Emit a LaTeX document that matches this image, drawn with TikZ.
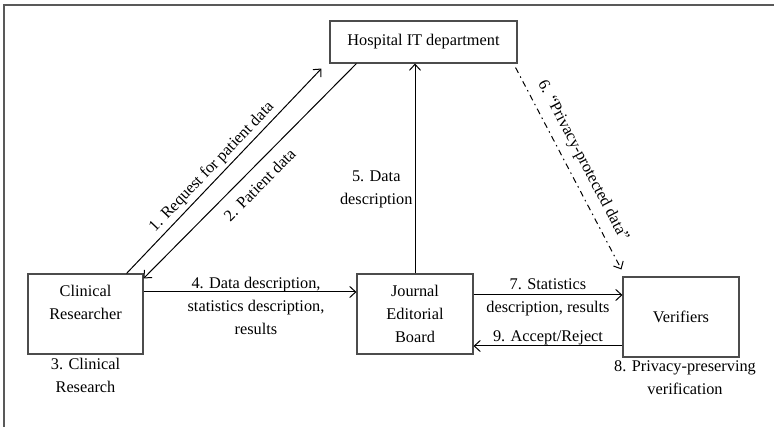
\documentclass[tikz,border=0pt]{standalone}
\usepackage{fontspec}
\setmainfont{Liberation Serif}
\usetikzlibrary{arrows.meta}
\tikzset{
	box/.style={draw=black!70, line width=1.1pt, minimum width=116pt, minimum height=80pt, align=center, inner sep=0pt},
	flow/.style={-{Straight Barb[length=6pt,width=11pt]}, line width=1pt},
	lbl/.style={align=center, inner sep=3pt},
}
\begin{document}
\begin{tikzpicture}[x=1pt, y=-1pt, font=\fontsize{16.3}{23}\selectfont]
	\useasboundingbox (0,0) rectangle (774,427);
	\draw[black!65, line width=1.5pt] (4,427) -- (4,5) -- (774,5);
	% boxes
	\node[box, minimum width=187pt, minimum height=42pt] (hosp) at (423.5,42) {Hospital IT department};
	\node[box, minimum width=115pt, text depth=24pt] (cr) at (85.5,314) {Clinical\\Researcher};
	\node[box] (jeb) at (415,314) {Journal\\Editorial\\Board};
	\node[box] (ver) at (681,317) {Verifiers};
	\node[lbl, below] at (cr.south) {3. Clinical\\Research};
	\node[lbl, below, xshift=4pt] at (ver.south) {8. Privacy-preserving\\verification};
	% flows
	\draw[flow] ([xshift=-17pt]cr.north east) -- ([xshift=-8pt,yshift=-5pt]hosp.south west)
		node[pos=0.48, sloped, above] {1. Request for patient data};
	\draw[flow] ([xshift=27pt]hosp.south west) -- ([yshift=-5pt]cr.north east)
		node[pos=0.51, sloped, below=7pt] {2. Patient data};
	\draw[flow] ([yshift=22pt]cr.east) -- ([yshift=22pt]jeb.west)
		node[lbl, midway, yshift=-14pt, xshift=6pt] {4. Data description,\\statistics description,\\results};
	\draw[flow] (jeb.north) -- (jeb.north |- hosp.south)
		node[lbl, pos=0.4, left, inner sep=2pt] {5. Data\\description};
	\draw[flow, dash pattern=on 6pt off 4pt on 1.5pt off 4pt] ([xshift=-2pt,yshift=-4pt]hosp.south east) -- ([xshift=-1pt,yshift=7pt]ver.north west)
		node[midway, sloped, above=5pt] {6. ``Privacy-protected data''};
	\draw[flow] ([yshift=19pt]jeb.east) -- ([yshift=19pt]jeb.east -| ver.west)
		node[lbl, midway, yshift=-2pt] {7. Statistics\\description, results};
	\draw[flow] ([yshift=-29pt]ver.west) -- ([yshift=-29pt]ver.west -| jeb.east)
		node[midway, above, inner sep=1pt] {9. Accept/Reject};
\end{tikzpicture}
\end{document}
